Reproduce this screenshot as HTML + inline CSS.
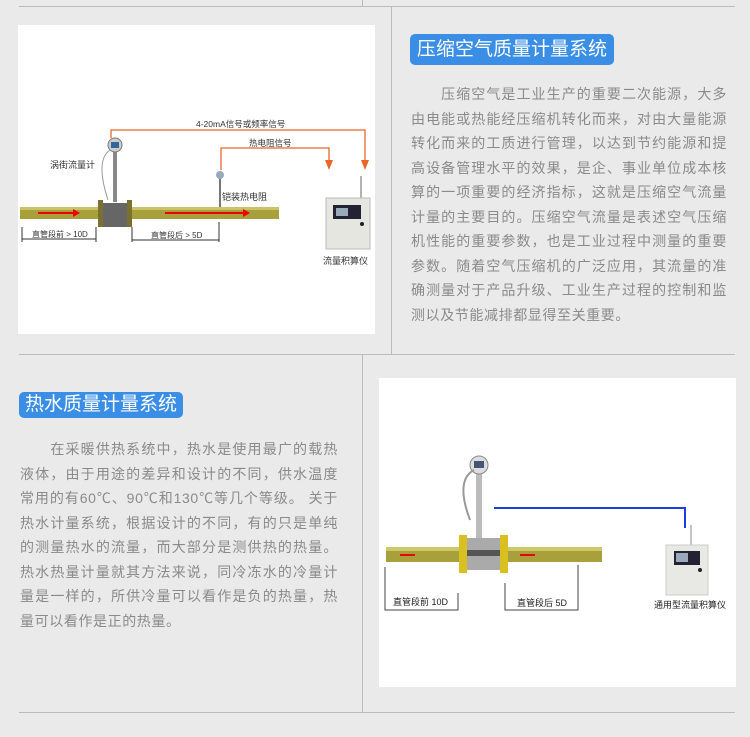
<!DOCTYPE html>
<html><head><meta charset="utf-8"><style>
body{margin:0;width:750px;height:737px;background:#eaeaea;position:relative;overflow:hidden;font-family:"Liberation Sans","Noto Sans CJK SC",sans-serif}
.a{position:absolute}
.badge{position:absolute;background:#3a8ee6;color:#fff;border-radius:5px;font-size:19px;line-height:31px;text-align:center}
.txt{position:absolute;color:#8a8a8a;font-size:14px;line-height:24.5px;letter-spacing:0.6px;text-align:justify}
</style></head><body>
<div class="a" style="left:19px;top:6px;width:716px;height:1px;background:#bbb"></div>
<div class="a" style="left:362px;top:0;width:1px;height:6px;background:#bbb"></div>
<div class="a" style="left:391px;top:6px;width:1px;height:348px;background:#bbb"></div>
<div class="a" style="left:19px;top:354px;width:716px;height:1px;background:#bbb"></div>
<div class="a" style="left:362px;top:354px;width:1px;height:358px;background:#bbb"></div>
<div class="a" style="left:19px;top:712px;width:716px;height:1px;background:#bbb"></div>

<svg class="a" style="left:18px;top:25px" width="357" height="309" viewBox="18 25 357 309">
<rect x="18" y="25" width="357" height="309" fill="#fff"/>
<rect x="20" y="207" width="259" height="12" fill="#a8a03a"/>
<rect x="20" y="207" width="259" height="3" fill="#c9c266"/>
<line x1="38" y1="213" x2="76" y2="213" stroke="#e00" stroke-width="2"/><polygon points="80,213 73,209 73,217" fill="#e00"/>
<line x1="165" y1="213" x2="245" y2="213" stroke="#e00" stroke-width="2"/><polygon points="250,213 243,209 243,217" fill="#e00"/>
<rect x="98" y="200" width="5" height="27" fill="#7a7030"/><rect x="127" y="200" width="5" height="27" fill="#7a7030"/>
<rect x="103" y="203" width="24" height="24" fill="#666"/>
<rect x="113" y="150" width="4" height="52" fill="#888"/>
<circle cx="115" cy="145" r="7" fill="#ccc" stroke="#777"/><rect x="111" y="142" width="8" height="6" fill="#369"/>
<path d="M110 150 Q95 160 108 200" fill="none" stroke="#999"/>
<line x1="220" y1="178" x2="220" y2="207" stroke="#777" stroke-width="2"/><circle cx="220" cy="175" r="4" fill="#9ab"/>
<polyline points="111,138 111,130 365,130 365,160" fill="none" stroke="#e8662a" stroke-width="1.3"/>
<polygon points="361,160 369,160 365,170" fill="#e8662a"/>
<polyline points="221,170 221,148 329,148 329,160" fill="none" stroke="#e8662a" stroke-width="1.3"/>
<polygon points="325,160 333,160 329,170" fill="#e8662a"/>
<text x="196" y="127" font-size="8.5" fill="#333">4-20mA信号或频率信号</text>
<text x="249" y="146" font-size="8.5" fill="#333">热电阻信号</text>
<text x="50" y="168" font-size="9" fill="#333">涡街流量计</text>
<text x="222" y="200" font-size="9" fill="#333">铠装热电阻</text>
<line x1="22" y1="227" x2="22" y2="242" stroke="#333"/><line x1="96" y1="227" x2="96" y2="242" stroke="#333"/>
<line x1="22" y1="239" x2="96" y2="239" stroke="#333"/>
<text x="32" y="237" font-size="8" fill="#333">直管段前 &gt; 10D</text>
<line x1="132" y1="227" x2="132" y2="242" stroke="#333"/><line x1="219" y1="222" x2="219" y2="242" stroke="#333"/>
<line x1="132" y1="240" x2="219" y2="240" stroke="#333"/>
<text x="151" y="238" font-size="8" fill="#333">直管段后 &gt; 5D</text>
<line x1="361" y1="176" x2="361" y2="198" stroke="#666"/>
<rect x="326" y="198" width="44" height="51" fill="#e6e6e0" stroke="#bbb"/>
<rect x="333" y="205" width="28" height="14" fill="#223" /><rect x="336" y="208" width="12" height="8" fill="#9ab"/>
<circle cx="362" cy="224" r="2" fill="#222"/>
<text x="323" y="264" font-size="9" fill="#333">流量积算仪</text>
</svg>

<div class="badge" style="left:410px;top:34px;width:204px">压缩空气质量计量系统</div>
<div class="txt" style="left:411px;top:82px;width:316px">　　压缩空气是工业生产的重要二次能源，大多由电能或热能经压缩机转化而来，对由大量能源转化而来的工质进行管理，以达到节约能源和提高设备管理水平的效果，是企、事业单位成本核算的一项重要的经济指标，这就是压缩空气流量计量的主要目的。压缩空气流量是表述空气压缩机性能的重要参数，也是工业过程中测量的重要参数。随着空气压缩机的广泛应用，其流量的准确测量对于产品升级、工业生产过程的控制和监测以及节能减排都显得至关重要。</div>

<div class="badge" style="left:19px;top:392px;width:164px;line-height:26px;height:26px">热水质量计量系统</div>
<div class="txt" style="left:20px;top:437px;width:318px">　　在采暖供热系统中，热水是使用最广的载热液体，由于用途的差异和设计的不同，供水温度常用的有60℃、90℃和130℃等几个等级。 关于热水计量系统，根据设计的不同，有的只是单纯的测量热水的流量，而大部分是测供热的热量。热水热量计量就其方法来说，同冷冻水的冷量计量是一样的，所供冷量可以看作是负的热量，热量可以看作是正的热量。</div>

<svg class="a" style="left:379px;top:378px" width="357" height="309" viewBox="379 378 357 309">
<rect x="379" y="378" width="357" height="309" fill="#fff"/>
<rect x="386" y="547" width="216" height="15" fill="#a8a03a"/>
<rect x="386" y="547" width="216" height="4" fill="#cfc86a"/>
<line x1="400" y1="555" x2="415" y2="555" stroke="#e00" stroke-width="2"/>
<line x1="520" y1="555" x2="535" y2="555" stroke="#e00" stroke-width="2"/>
<rect x="459" y="535" width="8" height="38" fill="#d8c020"/><rect x="500" y="535" width="8" height="38" fill="#d8c020"/>
<rect x="467" y="538" width="33" height="32" fill="#aaa"/><rect x="467" y="550" width="33" height="6" fill="#555"/>
<rect x="476" y="472" width="6" height="66" fill="#bbb"/>
<circle cx="479" cy="465" r="9" fill="#ddd" stroke="#888"/><rect x="474" y="461" width="10" height="7" fill="#457"/>
<path d="M474 470 Q455 480 470 520" fill="none" stroke="#999" stroke-width="2"/>
<polyline points="494,508 685,508 685,528" fill="none" stroke="#1a3ee0" stroke-width="2"/>
<line x1="691" y1="525" x2="691" y2="545" stroke="#888"/>
<rect x="666" y="545" width="42" height="50" fill="#e8e8e4" stroke="#ccc"/>
<rect x="674" y="551" width="26" height="14" fill="#223"/><rect x="676" y="553" width="12" height="9" fill="#9ab"/>
<circle cx="700" cy="570" r="2" fill="#222"/>
<polyline points="385,567 385,610 458,610 458,593" fill="none" stroke="#444"/>
<polyline points="505,583 505,610 578,610 578,565" fill="none" stroke="#444"/>
<text x="393" y="605" font-size="9" fill="#222">直管段前 10D</text>
<text x="517" y="606" font-size="9" fill="#222">直管段后 5D</text>
<text x="654" y="608" font-size="9" fill="#222">通用型流量积算仪</text>
</svg>
</body></html>
